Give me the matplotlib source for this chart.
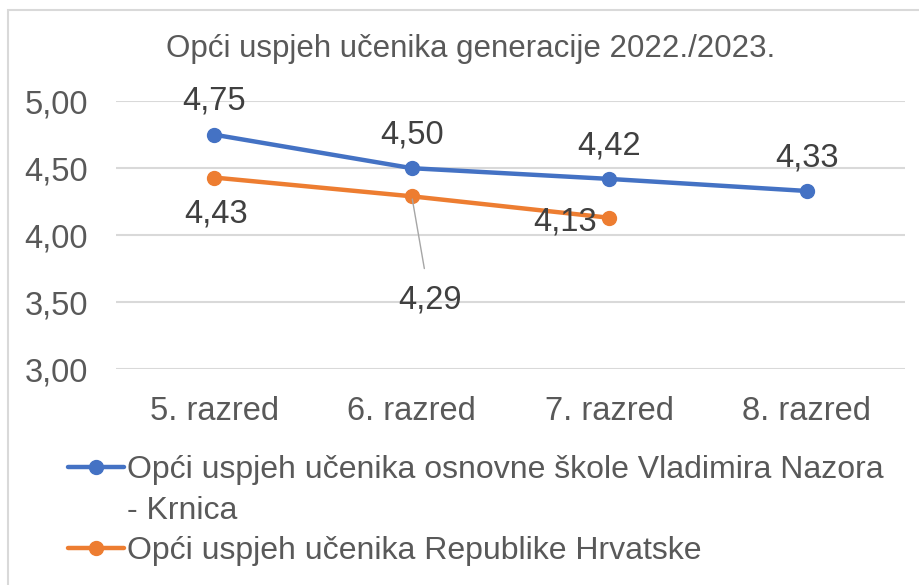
import matplotlib
matplotlib.use('Agg')
import matplotlib.pyplot as plt
from matplotlib.patches import Rectangle
from matplotlib.lines import Line2D

plt.rcParams['font.family'] = ['Liberation Sans', 'DejaVu Sans']

# ── data ──────────────────────────────────────────────
razredi = ['5. razred', '6. razred', '7. razred', '8. razred']
skola = [4.75, 4.50, 4.42, 4.33]
hrvatska = [4.43, 4.29, 4.13]
naziv_skola = ['Opći uspjeh učenika osnovne škole Vladimira Nazora', '- Krnica']
naziv_hr = 'Opći uspjeh učenika Republike Hrvatske'
yticks = [3.0, 3.5, 4.0, 4.5, 5.0]

BLUE = '#4472C4'
ORANGE = '#ED7D31'
TXT = '#595959'
LBL = '#404040'
GRID = '#D9D9D9'
FS = 23.5

fig = plt.figure(figsize=(9.19, 5.85), dpi=100)
ax = fig.add_axes([0.126, 0.369, 0.859, 0.458])

# chart border
fig.patches.append(Rectangle((8 / 919, -0.1), 1.2, 1 - 10 / 585 + 0.1,
                             transform=fig.transFigure, fill=False,
                             edgecolor=GRID, linewidth=1.5))

x1 = list(range(len(skola)))
x2 = list(range(len(hrvatska)))
l1, = ax.plot(x1, skola, color=BLUE, lw=3.2, marker='o', ms=10,
              solid_capstyle='round', zorder=3)
l2, = ax.plot(x2, hrvatska, color=ORANGE, lw=3.2, marker='o', ms=10,
              solid_capstyle='round', zorder=3)

fmt = lambda v: f'{v:.2f}'.replace('.', ',')

# data labels (offsets in points)
for x, v in zip(x1, skola):
    ax.annotate(fmt(v), (x, v), xytext=(0, 24), textcoords='offset points',
                ha='center', va='center', fontsize=FS, color=LBL)

off_hr = [(1, -26), (13, -75), (-32, -3)]
for (x, v), (dx, dy) in zip(zip(x2, hrvatska), off_hr):
    if dy < -50:
        ax.annotate(fmt(v), (x, v), xytext=(dx, dy), textcoords='offset points',
                    ha='center', va='center', fontsize=FS, color=LBL,
                    arrowprops=dict(arrowstyle='-', color='#A6A6A6', lw=1,
                                    shrinkA=10, shrinkB=2))
    else:
        ax.annotate(fmt(v), (x, v), xytext=(dx, dy), textcoords='offset points',
                    ha='center', va='center', fontsize=FS, color=LBL)

ax.set_xlim(-0.5, 3.5)
ax.set_ylim(3.0, 5.0)
ax.set_yticks(yticks)
ax.set_yticklabels([fmt(v) for v in yticks])
ax.set_xticks(x1)
ax.set_xticklabels(razredi)
ax.tick_params(axis='both', length=0, labelsize=FS, colors=TXT)
ax.tick_params(axis='y', pad=20)
ax.tick_params(axis='x', pad=19)
ax.grid(axis='y', color=GRID, lw=1.5)
ax.set_axisbelow(True)
for s in ax.spines.values():
    s.set_visible(False)

fig.text(0.512, 0.917, 'Opći uspjeh učenika generacije 2022./2023.',
         ha='center', va='center', fontsize=22.5, color=TXT)

# legend: second line of the long label gets an empty handle so the
# marker sits next to the first line
blank = Line2D([], [], linestyle='none')
fig.legend(handles=[l1, blank, l2],
           labels=[naziv_skola[0], naziv_skola[1], naziv_hr],
           loc='upper left', bbox_to_anchor=(0.074, 0.222),
           frameon=False, fontsize=23, labelcolor=TXT, handlelength=1.75,
           handletextpad=0.1, labelspacing=0.33, borderpad=0, borderaxespad=0)

fig.savefig('out.png', dpi=100)
